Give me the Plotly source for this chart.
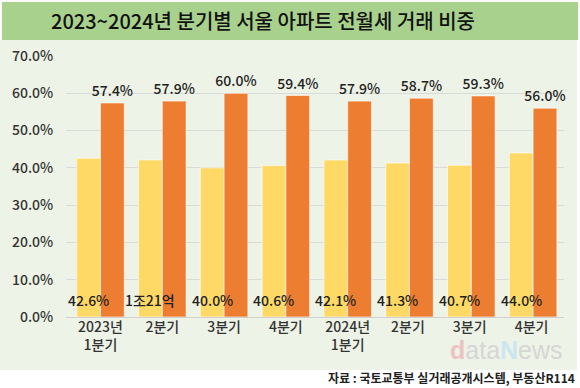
import plotly.graph_objects as go

categories = ["2023년<br>1분기", "2분기", "3분기", "4분기", "2024년<br>1분기", "2분기 ", "3분기 ", "4분기 "]
jeonse = [42.6, 42.1, 40.0, 40.6, 42.1, 41.3, 40.7, 44.0]
jeonse_labels = ["42.6%", "1조21억", "40.0%", "40.6%", "42.1%", "41.3%", "40.7%", "44.0%"]
wolse = [57.4, 57.9, 60.0, 59.4, 57.9, 58.7, 59.3, 56.0]
wolse_labels = ["57.4%", "57.9%", "60.0%", "59.4%", "57.9%", "58.7%", "59.3%", "56.0%"]
y_ticks = [0, 10, 20, 30, 40, 50, 60, 70]
y_tick_labels = ["0.0%", "10.0%", "20.0%", "30.0%", "40.0%", "50.0%", "60.0%", "70.0%"]

W, H = 580, 388
ML, MR, MT, MB = 66, 16, 56, 71
PW, PH = W - ML - MR, H - MT - MB
BARGAP = 0.23
BAR_PX = PW / len(categories) * (1 - BARGAP) / 2

def px_x(x):
    return (x - ML) / PW

def px_y(y):
    return 1 - (y - MT) / PH

FONT = "Noto Sans CJK KR"

fig = go.Figure()
fig.add_bar(
    x=categories, y=jeonse, name="전세",
    marker=dict(color="#FFD966", line=dict(color="rgba(255,255,255,0.6)", width=1)),
)
fig.add_bar(
    x=categories, y=wolse, name="월세",
    marker=dict(color="#ED7D31", line=dict(color="rgba(255,255,255,0.6)", width=1)),
    text=wolse_labels, textposition="outside", constraintext="none", textangle=0,
    outsidetextfont=dict(family=FONT, size=14, color="#222222", weight=500),
    cliponaxis=False,
)

shapes = [
    dict(type="rect", xref="paper", yref="paper", layer="below",
         x0=px_x(0), x1=px_x(577), y0=px_y(370), y1=px_y(40),
         fillcolor="#EEF3E7", line=dict(width=0)),
    dict(type="rect", xref="paper", yref="paper", layer="below",
         x0=px_x(2), x1=px_x(578), y0=px_y(40), y1=px_y(2),
         fillcolor="#A9D18E", line=dict(width=0)),
]

annotations = [
    dict(text="2023~2024년 분기별 서울 아파트 전월세 거래 비중", xref="paper", yref="paper",
         x=px_x(263), y=px_y(21), showarrow=False, xanchor="center", yanchor="middle",
         font=dict(family=FONT, size=20, color="#111111", weight=500)),
    dict(text="<b>자료 : 국토교통부 실거래공개시스템, 부동산R114</b>", xref="paper", yref="paper",
         x=px_x(577), y=px_y(377), showarrow=False, xanchor="right", yanchor="middle",
         font=dict(family=FONT, size=12, color="#222222")),
    dict(text="<b><span style='color:#EBC3C3'>d</span></b><span style='color:#D6D6D6'>ata</span>"
              "<b><span style='color:#CBE6F0'>N</span></b><span style='color:#D6D6D6'>ews</span>",
         xref="paper", yref="paper",
         x=px_x(506), y=px_y(350), showarrow=False, xanchor="center", yanchor="middle",
         font=dict(family="Liberation Sans", size=25, color="#D6D6D6")),
]

for cat, lab in zip(categories, jeonse_labels):
    annotations.append(dict(
        text=lab, x=cat, y=0, xref="x", yref="y", showarrow=False,
        xanchor="center", yanchor="bottom", xshift=-BAR_PX / 2, yshift=5,
        font=dict(family=FONT, size=14, color="#222222", weight=500),
    ))

fig.update_layout(
    width=W, height=H,
    margin=dict(l=ML, r=MR, t=MT, b=MB),
    paper_bgcolor="white", plot_bgcolor="rgba(0,0,0,0)",
    barmode="group", bargap=BARGAP, bargroupgap=0,
    showlegend=False,
    shapes=shapes, annotations=annotations,
    font=dict(family=FONT, color="#333333"),
    xaxis=dict(showgrid=False, showline=False, zeroline=False, ticks="",
               tickfont=dict(family=FONT, size=14, color="#333333", weight=500), tickangle=0,
               fixedrange=True),
    yaxis=dict(range=[0, 70], tickvals=y_ticks, ticktext=y_tick_labels,
               showgrid=True, gridcolor="#D9D9D9", gridwidth=1,
               zeroline=True, zerolinecolor="#D0D0D0", zerolinewidth=1,
               showline=False, ticks="outside", ticklen=9, tickcolor="rgba(0,0,0,0)",
               tickfont=dict(family=FONT, size=14, color="#333333", weight=500),
               fixedrange=True),
)

fig.write_html("out.html", config={"displayModeBar": False},
               post_script="document.body.style.margin='0';")
